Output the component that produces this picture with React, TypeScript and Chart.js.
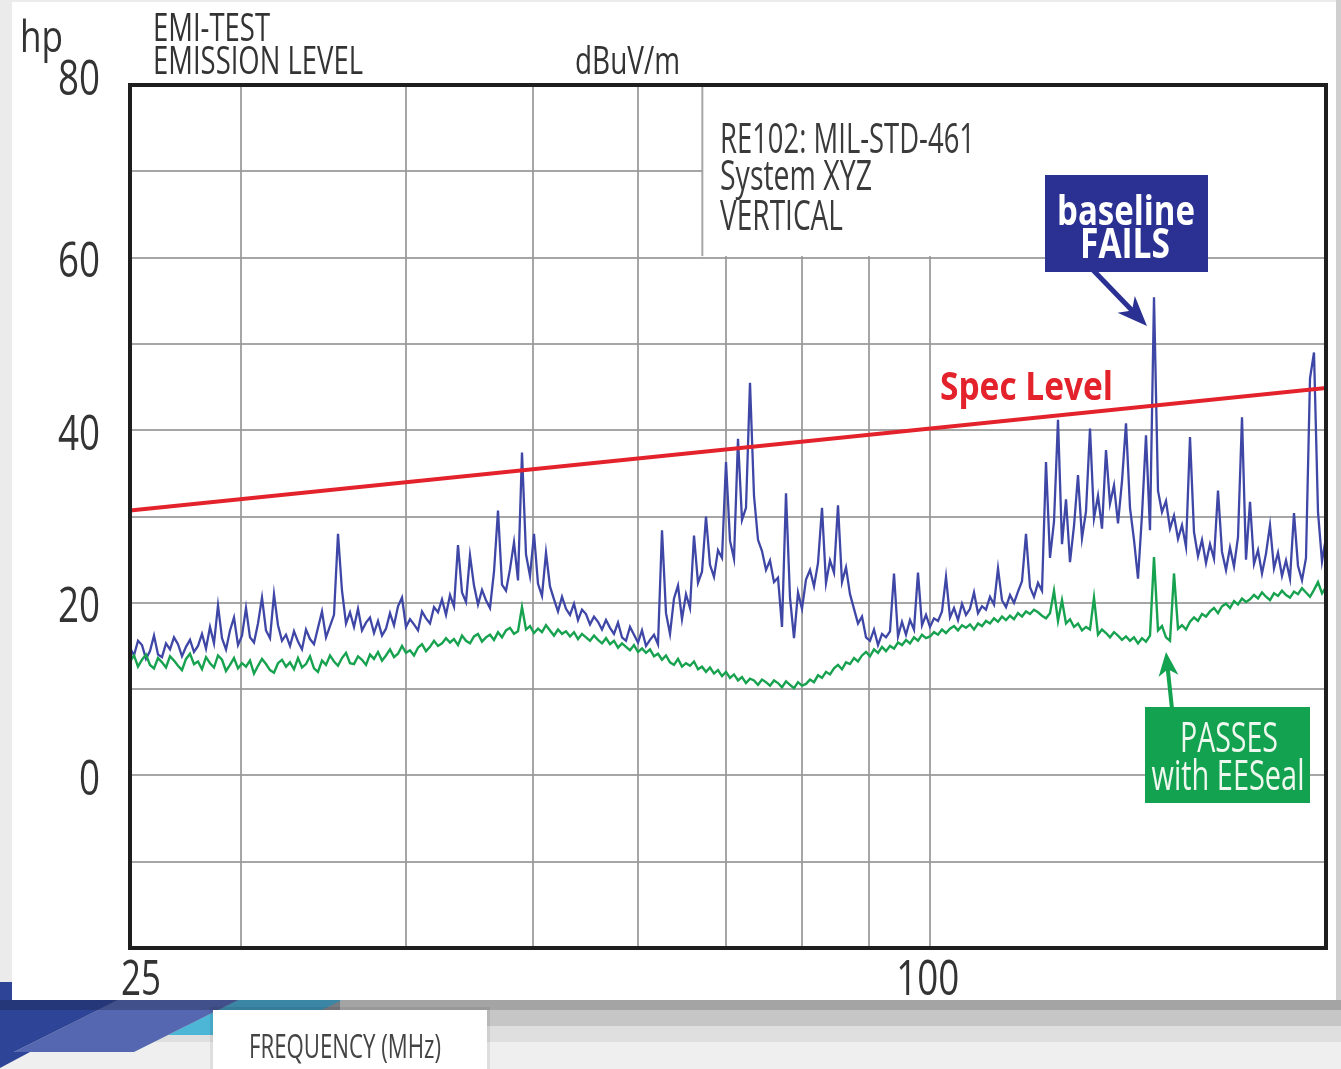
import React, { useEffect, useRef } from "react";
import { Chart, registerables } from "chart.js";

Chart.register(...registerables);

// ---------------- data ----------------
const START_MHZ = 24.7;
const STOP_MHZ = 200;
const X_GRID_MHZ = [30, 40, 50, 60, 70, 80, 90, 100];
const X_TICK_LABELS = [25, 100];
const Y_MIN = -20;
const Y_MAX = 80;
const Y_GRID_DB = [-20, -10, 0, 10, 20, 30, 40, 50, 60, 70, 80];
const Y_TICK_LABELS = [0, 20, 40, 60, 80];

const SPEC_MHZ = [24.7, 200];
const SPEC_DB = [30.7, 44.9];

// baseline sweep (blue), dBuV/m
const BASELINE_DB = [
  14.8, 13.9, 15.6, 15.1, 13.5, 14.4, 16.2, 14.0, 13.7, 15.3,
  14.6, 16.0, 15.2, 13.8, 14.9, 15.7, 14.3, 15.0, 16.4, 14.7,
  17.2, 15.3, 19.7, 15.9, 14.6, 16.8, 18.3, 15.1, 16.2, 19.4,
  16.0, 15.4, 17.6, 20.6, 16.8, 15.9, 21.0, 17.4, 15.6, 16.3,
  15.0, 16.7, 15.5, 14.6, 16.9, 15.8, 15.2, 17.1, 19.0, 16.0,
  17.3, 18.6, 28.0, 21.4, 17.6, 18.9, 17.2, 19.3, 16.8, 17.7,
  18.3, 16.5, 17.9, 16.2, 17.0, 18.8, 17.4, 19.6, 20.6, 17.2,
  18.1, 17.5, 16.8, 19.0, 18.2, 17.6, 19.5, 18.9, 20.4, 18.6,
  20.9, 19.6, 26.7, 21.2, 20.1, 25.5, 22.0, 19.8, 21.5, 20.3,
  19.4, 23.6, 30.7, 22.1, 21.4, 23.9, 27.0, 22.6, 37.4, 25.6,
  23.1, 28.0, 22.2, 20.8, 25.8, 21.9, 20.4, 19.0, 20.7, 19.3,
  18.6, 19.9, 18.0, 19.2, 18.7, 17.5, 18.4, 17.8, 16.9, 18.0,
  17.1, 16.4, 17.7, 16.0, 15.6, 17.2, 16.3, 15.4, 16.8, 15.0,
  15.7, 16.3, 15.2, 28.4, 18.8, 16.4, 20.5, 22.0, 18.1, 21.0,
  19.4, 27.8, 22.3, 23.6, 30.0, 24.4, 23.0, 26.1, 25.2, 36.3,
  27.2, 25.1, 39.0, 29.6, 31.0, 45.5, 32.4, 27.3, 26.0, 23.8,
  24.9, 22.4, 22.9, 17.2, 32.7, 20.6, 15.9, 21.2, 19.3, 22.7,
  23.8, 21.9, 24.6, 31.0, 22.3, 24.9, 23.5, 31.3, 22.4, 24.1,
  21.0, 19.3, 17.6, 18.4, 16.0, 15.6, 16.9, 15.1, 16.4, 16.0,
  16.7, 23.4, 16.1, 17.8, 16.3, 18.0, 16.9, 23.5, 17.4, 18.6,
  17.2, 18.2, 17.9, 19.0, 23.0, 18.3, 19.4, 18.0, 19.9, 18.6,
  19.3, 21.2, 18.8, 19.6, 19.2, 20.7, 19.8, 24.0, 20.3, 19.5,
  20.9, 20.0, 21.3, 22.5, 28.0, 21.8, 20.7, 22.3, 21.4, 36.3,
  25.2, 29.4, 41.2, 26.8, 32.0, 24.7, 28.9, 34.8, 27.5, 30.6,
  40.2, 29.8, 32.4, 28.6, 37.7, 31.5, 33.6, 29.2, 34.1, 40.8,
  31.0, 27.3, 22.8, 30.2, 39.4, 28.4, 55.4, 33.0, 30.5, 31.8,
  28.6, 30.1, 27.4, 29.0, 26.5, 39.2, 28.2, 25.4, 27.3, 24.6,
  26.8, 25.1, 33.0, 25.9, 23.8, 26.4, 24.2, 27.6, 41.5, 25.0,
  31.7, 24.5, 26.1, 23.4, 25.7, 29.0, 24.0, 25.8, 23.1, 24.9,
  22.8, 30.4, 24.3, 22.6, 25.2, 46.0, 49.0, 30.5, 24.8, 27.6,
];

// sweep with EESeal (green), dBuV/m
const EESEAL_DB = [
  13.2, 13.9, 12.6, 13.4, 14.0, 12.8, 12.4, 13.6, 13.1, 12.5,
  13.8, 13.3, 12.7, 12.2, 13.5, 14.1, 12.9, 13.2, 12.3, 13.7,
  13.0, 12.5, 13.9, 13.4, 12.1, 12.8, 13.6, 12.4, 13.0, 12.6,
  13.3, 11.8, 12.7, 13.5, 12.9, 12.2, 11.9, 13.0, 13.4, 12.6,
  13.1, 12.3, 13.6, 12.5, 12.9, 13.8, 12.4, 12.0, 13.3, 12.8,
  13.9, 13.2, 12.7, 13.6, 14.2, 13.0, 12.9, 13.8, 13.4, 12.8,
  14.0, 13.5, 14.3, 13.3, 13.9, 14.6, 13.7, 14.1, 15.0, 14.2,
  14.5, 13.9, 14.8, 15.2, 14.4, 14.9, 15.6, 15.0, 15.3, 15.9,
  15.4, 15.8, 15.1, 16.2, 15.6, 15.3, 16.1, 16.4, 15.5, 16.0,
  16.3, 15.7, 16.6, 16.0, 16.8, 17.1, 16.4, 16.7, 19.5, 16.9,
  17.3, 16.5, 17.0, 16.6, 17.4, 16.8, 16.2, 16.9, 16.4, 16.7,
  16.1, 16.6, 15.8, 16.4, 16.0, 15.6, 16.2, 15.7, 15.3, 15.9,
  15.2, 15.6, 14.8, 15.3, 14.9, 14.5, 15.1, 14.3, 14.7, 14.2,
  14.6, 13.8, 14.1, 13.4, 13.9, 13.1, 12.8, 13.5, 12.6, 13.0,
  12.7, 13.2, 12.3, 12.6, 12.0, 12.5, 11.8, 12.2, 11.5, 12.0,
  11.3, 11.7, 11.0, 11.4, 10.7, 11.2, 11.0, 10.5, 11.1, 10.8,
  10.4, 11.0, 10.7, 10.2, 10.9, 10.5, 10.1, 10.8, 10.4, 10.6,
  11.1, 10.8, 11.6, 11.3, 12.0, 11.7, 12.4, 12.8, 12.3, 13.1,
  12.9, 13.6, 13.2, 13.9, 14.3, 13.8, 14.6, 14.2, 14.9, 14.4,
  15.0, 14.7, 15.4, 15.1, 15.7, 15.3, 16.0, 15.6, 16.3, 15.9,
  16.1, 16.6, 16.3, 16.9, 16.5, 17.0, 17.3, 16.8, 17.4, 17.1,
  17.5, 16.9, 17.6, 17.3, 17.9, 17.6, 18.2, 17.8, 18.4, 18.0,
  18.5, 18.1, 18.8, 18.4, 19.0, 18.7, 19.2, 18.9, 18.5, 18.2,
  18.8, 21.4, 17.9, 20.3, 17.6, 18.1, 17.2, 17.6, 16.8, 17.2,
  16.9, 20.6, 16.3, 16.9, 16.5, 16.0, 16.6, 16.2, 15.7, 16.1,
  15.6, 16.0, 15.3, 15.9, 15.5, 16.2, 25.3, 16.8, 17.3, 16.0,
  15.6, 23.4, 17.0, 17.4, 16.9, 17.8, 18.3, 17.9, 18.7, 18.4,
  19.0, 19.4, 18.8, 19.6, 19.9, 19.4, 20.2, 19.8, 20.5, 20.1,
  20.4, 20.9, 20.5, 21.2, 20.7, 20.3, 21.1, 20.8, 21.4, 20.9,
  20.6, 21.3, 21.0, 21.7, 21.2, 20.7, 21.5, 22.4, 21.1, 21.8,
];

// sweep frequencies (log-spaced receiver sweep across the displayed span)
const FREQ_MHZ = BASELINE_DB.map(
  (_, i) => START_MHZ * Math.pow(STOP_MHZ / START_MHZ, i / (BASELINE_DB.length - 1))
);

// ---------------- styling ----------------
const FONT = "'Open Sans', 'Liberation Sans', Arial, sans-serif";
const GRID_COLOR = "rgba(150,150,150,0.85)";
const BLUE = "#3f47a6";
const GREEN = "#17a24f";
const RED = "#e3222b";
const NAVY_BOX = "#2b3192";
const GREEN_BOX = "#13a24f";
const TEXT_DARK = "#333333";
const INFO_BOX_FROM_MHZ = 67.2;

type TextOpts = {
  cap: number;
  width?: number;
  weight?: string;
  color: string;
  align?: "left" | "center" | "right";
};

function drawText(ctx: CanvasRenderingContext2D, text: string, x: number, baseline: number, o: TextOpts) {
  const size = o.cap / 0.714;
  ctx.save();
  ctx.font = `${o.weight ?? "normal"} ${size}px ${FONT}`;
  const w = ctx.measureText(text).width;
  const sx = o.width ? o.width / w : 1;
  const dw = w * sx;
  let left = x;
  if (o.align === "center") left = x - dw / 2;
  else if (o.align === "right") left = x - dw;
  ctx.translate(left, baseline);
  ctx.scale(sx, 1);
  ctx.fillStyle = o.color;
  ctx.textAlign = "left";
  ctx.textBaseline = "alphabetic";
  ctx.fillText(text, 0, 0);
  ctx.restore();
}

function poly(ctx: CanvasRenderingContext2D, pts: number[][], color: string) {
  ctx.beginPath();
  ctx.moveTo(pts[0][0], pts[0][1]);
  for (let i = 1; i < pts.length; i++) ctx.lineTo(pts[i][0], pts[i][1]);
  ctx.closePath();
  ctx.fillStyle = color;
  ctx.fill();
}

function arrow(
  ctx: CanvasRenderingContext2D,
  x0: number, y0: number, x1: number, y1: number,
  color: string, lw: number, headLen: number, headHalf: number
) {
  const ang = Math.atan2(y1 - y0, x1 - x0);
  const c = Math.cos(ang), s = Math.sin(ang);
  const bx = x1 - headLen * c, by = y1 - headLen * s;
  const nx = -s, ny = c;
  ctx.save();
  ctx.strokeStyle = color;
  ctx.lineWidth = lw;
  ctx.beginPath();
  ctx.moveTo(x0, y0);
  ctx.lineTo(x1 - headLen * 0.6 * c, y1 - headLen * 0.6 * s);
  ctx.stroke();
  ctx.fillStyle = color;
  ctx.beginPath();
  ctx.moveTo(x1, y1);
  ctx.lineTo(bx + nx * headHalf, by + ny * headHalf);
  ctx.lineTo(x1 - headLen * 0.72 * c, y1 - headLen * 0.72 * s);
  ctx.lineTo(bx - nx * headHalf, by - ny * headHalf);
  ctx.closePath();
  ctx.fill();
  ctx.restore();
}

const decorPlugin = {
  id: "emiDecor",
  beforeDraw(chart: any) {
    const ctx: CanvasRenderingContext2D = chart.ctx;
    const W = chart.width, H = chart.height;
    ctx.save();
    ctx.fillStyle = "#ebebeb";
    ctx.fillRect(0, 0, W, H);
    ctx.fillStyle = "#cfcfcf";
    ctx.fillRect(1336, 0, 5, 1000);
    ctx.fillStyle = "#ffffff";
    ctx.fillRect(12, 2, 1324, 998);
    // bottom grey bands
    ctx.fillStyle = "#a4a4a4"; ctx.fillRect(0, 1000, W, 10);
    ctx.fillStyle = "#c6c6c6"; ctx.fillRect(0, 1010, W, 16);
    ctx.fillStyle = "#dfdfdf"; ctx.fillRect(0, 1026, W, 16);
    ctx.fillStyle = "#efefef"; ctx.fillRect(0, 1042, W, H - 1042);
    // slide theme shapes
    poly(ctx, [[238, 1000], [342, 1000], [272, 1035], [168, 1035]], "#4db5d6");
    poly(ctx, [[118, 1000], [238, 1000], [134, 1052], [14, 1052]], "#5567b0");
    poly(ctx, [[0, 982], [12, 982], [12, 1000], [118, 1000], [0, 1059]], "#2d4497");
    poly(ctx, [[0, 1052], [30, 1052], [0, 1068]], "#2d4497");
    ctx.fillStyle = "rgba(20,25,50,0.3)";
    ctx.fillRect(0, 1000, 340, 10);
    // axis tab
    ctx.fillStyle = "rgba(0,0,0,0.07)";
    ctx.fillRect(210, 1007, 280, 62);
    ctx.fillStyle = "#ffffff";
    ctx.fillRect(213, 1010, 274, 59);
    ctx.restore();
  },
  beforeDatasetsDraw(chart: any) {
    const ctx: CanvasRenderingContext2D = chart.ctx;
    const a = chart.chartArea;
    const xs = chart.scales.x, ys = chart.scales.y;
    const boxL = xs.getPixelForValue(INFO_BOX_FROM_MHZ);
    const boxB = ys.getPixelForValue(60) - 1.5;
    ctx.save();
    ctx.fillStyle = "#ffffff";
    ctx.fillRect(boxL, a.top, a.right - boxL, boxB - a.top);
    ctx.strokeStyle = GRID_COLOR;
    ctx.lineWidth = 2;
    ctx.beginPath();
    ctx.moveTo(boxL, a.top);
    ctx.lineTo(boxL, boxB);
    ctx.stroke();
    ctx.restore();
  },
  afterDatasetsDraw(chart: any) {
    const ctx: CanvasRenderingContext2D = chart.ctx;
    const a = chart.chartArea;
    const xs = chart.scales.x, ys = chart.scales.y;
    // frame
    ctx.save();
    ctx.strokeStyle = "#1e1e1e";
    ctx.lineWidth = 4;
    ctx.strokeRect(a.left, a.top, a.right - a.left, a.bottom - a.top);
    ctx.restore();

    // tick labels
    for (const v of Y_TICK_LABELS) {
      const y = ys.getPixelForValue(v) + (v === Y_MAX ? -8 : 2);
      const t = String(v);
      drawText(ctx, t, 100, y + 17.5, { cap: 35, width: 21 * t.length, color: TEXT_DARK, align: "right" });
    }
    for (const v of X_TICK_LABELS) {
      const x = xs.getPixelForValue(v);
      const t = String(v);
      if (v === X_TICK_LABELS[0]) {
        drawText(ctx, t, x - 16, a.bottom + 47, { cap: 35, width: 20 * t.length, color: TEXT_DARK });
      } else {
        drawText(ctx, t, x - 2, a.bottom + 47, { cap: 35, width: 21 * t.length, color: TEXT_DARK, align: "center" });
      }
    }

    // header
    drawText(ctx, "hp", 20, 52, { cap: 31, width: 43, color: TEXT_DARK });
    drawText(ctx, "EMI-TEST", 153, 41, { cap: 27, width: 117, color: TEXT_DARK });
    drawText(ctx, "EMISSION LEVEL", 153, 74, { cap: 27, width: 210, color: TEXT_DARK });
    drawText(ctx, "dBuV/m", 575, 74, { cap: 27, width: 105, color: TEXT_DARK });

    // info box text
    drawText(ctx, "RE102: MIL-STD-461", 720, 153, { cap: 30, width: 255, color: "#3a3a3a" });
    drawText(ctx, "System XYZ", 720, 190, { cap: 30, width: 152, color: "#3a3a3a" });
    drawText(ctx, "VERTICAL", 720, 230, { cap: 30, width: 123, color: "#3a3a3a" });

    // spec level label
    drawText(ctx, "Spec Level", 940, 400, { cap: 28, width: 173, weight: "bold", color: RED });

    // baseline FAILS callout
    ctx.save();
    ctx.fillStyle = NAVY_BOX;
    ctx.fillRect(1045, 175, 163, 97);
    ctx.restore();
    drawText(ctx, "baseline", 1126, 225, { cap: 30, width: 138, weight: "bold", color: "#ffffff", align: "center" });
    drawText(ctx, "FAILS", 1125, 258, { cap: 30, width: 90, weight: "bold", color: "#ffffff", align: "center" });
    arrow(ctx, 1093, 270, 1147, 326, NAVY_BOX, 5, 30, 12);

    // PASSES callout
    ctx.save();
    ctx.fillStyle = GREEN_BOX;
    ctx.fillRect(1145, 707, 165, 96);
    ctx.restore();
    drawText(ctx, "PASSES", 1229, 752, { cap: 30, width: 98, color: "#eef8ee", align: "center" });
    drawText(ctx, "with EESeal", 1228, 790, { cap: 30, width: 153, color: "#eef8ee", align: "center" });
    arrow(ctx, 1172, 709, 1166, 652, GREEN_BOX, 4, 24, 10);

    // x axis title tab
    drawText(ctx, "FREQUENCY (MHz)", 249, 1058, { cap: 23, width: 192, color: "#444444" });
  },
};

export default function App() {
  const ref = useRef<HTMLCanvasElement>(null);

  useEffect(() => {
    if (!ref.current) return;
    const chart = new Chart(ref.current, {
      type: "line",
      data: {
        datasets: [
          {
            label: "Spec Level",
            data: SPEC_MHZ.map((f, i) => ({ x: f, y: SPEC_DB[i] })),
            borderColor: RED,
            borderWidth: 4,
            pointRadius: 0,
            order: 0,
          },
          {
            label: "with EESeal",
            data: FREQ_MHZ.map((f, i) => ({ x: f, y: EESEAL_DB[i] })),
            borderColor: GREEN,
            borderWidth: 2.4,
            pointRadius: 0,
            order: 1,
          },
          {
            label: "baseline",
            data: FREQ_MHZ.map((f, i) => ({ x: f, y: BASELINE_DB[i] })),
            borderColor: BLUE,
            borderWidth: 2.3,
            pointRadius: 0,
            order: 2,
          },
        ],
      },
      options: {
        responsive: false,
        devicePixelRatio: 1,
        animation: false,
        events: [],
        layout: { padding: { top: 85, right: 15, left: 0, bottom: 0 } },
        plugins: {
          legend: { display: false },
          tooltip: { enabled: false },
          title: { display: false },
        },
        elements: { line: { tension: 0 } },
        scales: {
          x: {
            type: "logarithmic",
            min: START_MHZ,
            max: STOP_MHZ,
            afterBuildTicks: (s: any) => {
              s.ticks = X_GRID_MHZ.map((v) => ({ value: v }));
            },
            afterFit: (s: any) => {
              s.height = 121;
            },
            ticks: { display: false },
            grid: { color: GRID_COLOR, lineWidth: 2, drawTicks: false },
            border: { display: false },
          },
          y: {
            type: "linear",
            min: Y_MIN,
            max: Y_MAX,
            afterBuildTicks: (s: any) => {
              s.ticks = Y_GRID_DB.map((v) => ({ value: v }));
            },
            afterFit: (s: any) => {
              s.width = 130;
            },
            ticks: { display: false },
            grid: { color: GRID_COLOR, lineWidth: 2, drawTicks: false },
            border: { display: false },
          },
        },
      } as any,
      plugins: [decorPlugin],
    });
    return () => chart.destroy();
  }, []);

  return (
    <div
      style={{
        position: "fixed",
        left: 0,
        top: 0,
        width: 1341,
        height: 1069,
        overflow: "hidden",
        background: "#ebebeb",
      }}
    >
      <canvas ref={ref} width={1341} height={1069} style={{ display: "block", width: 1341, height: 1069 }} />
    </div>
  );
}
